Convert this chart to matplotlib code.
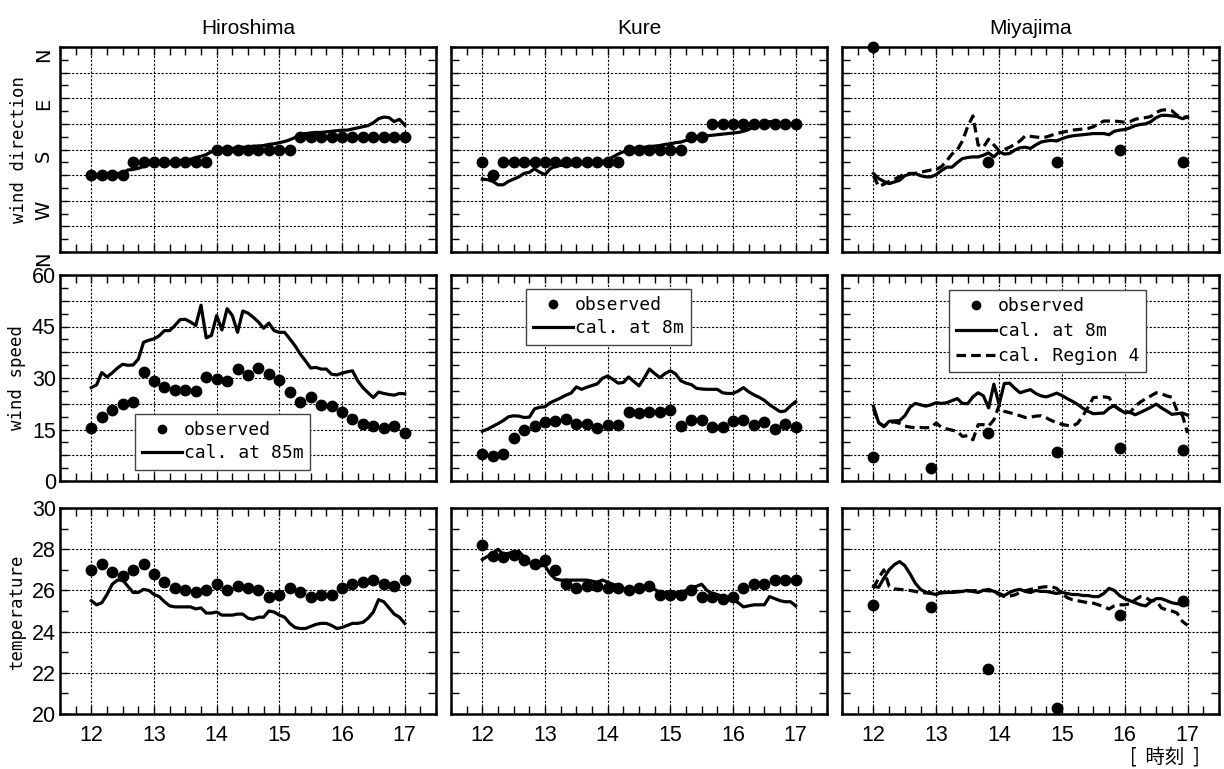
import numpy as np
import matplotlib
matplotlib.use("Agg")
import matplotlib.pyplot as plt
from matplotlib.ticker import MultipleLocator, FuncFormatter

plt.rcParams['font.family'] = ['Liberation Sans', 'Noto Sans CJK JP', 'DejaVu Sans']

stations = ["Hiroshima", "Kure", "Miyajima"]

# time axes (hours): observations every 10 min, calculations every 5 min
obs_time = 12 + np.arange(31) / 6.0
cal_time = 12 + np.arange(61) / 12.0
miya_obs_time = [12.0, 12.92, 13.83, 14.92, 15.92, 16.92]

# ---- wind direction (deg, N=0, E=90, S=180, W=270) ----
hiro_dir_obs = [225] * 4 + [202.5] * 8 + [180] * 8 + [157.5] * 11
hiro_dir_cal = [222, 228, 229, 222, 222, 222, 222, 216, 215, 213, 210, 206, 205, 204, 204, 203,
                202, 200, 199, 197, 194, 192, 189, 184, 181, 179, 178, 178, 177, 176, 176, 174,
                174, 173, 171, 170, 168, 166, 163, 159, 153, 152, 151, 150, 150, 149, 148, 147,
                146, 146, 144, 142, 140, 138, 133, 126, 123, 124, 131, 127, 137]
kure_dir_obs = [202.5, 225] + [202.5] * 12 + [180] * 6 + [157.5] * 2 + [135] * 9
kure_dir_cal = [232, 233, 236, 242, 242, 236, 232, 228, 222, 220, 214, 220, 224, 214, 209, 208,
                208, 207, 205, 205, 205, 204, 203, 201, 198, 193, 188, 184, 182, 178, 176, 176,
                175, 174, 173, 171, 170, 168, 167, 164, 161, 159, 157, 156, 155, 154, 153, 152,
                151, 150, 148, 145, 139, 136, 134, 131, 132, 133, 134, 135, 136]
miya_dir_obs = [0, np.nan, 202.5, 202.5, 180, 202.5]
miya_dir_cal = [222, 231, 236, 240, 237, 234, 226, 223, 222, 226, 228, 228, 224, 217, 211, 211,
                203, 196, 194, 193, 193, 190, 186, 193, 184, 188, 187, 181, 177, 176, 178, 172,
                167, 165, 164, 165, 161, 158, 156, 155, 154, 153, 152, 152, 152, 154, 148, 146,
                145, 142, 138, 136, 135, 131, 124, 120, 120, 121, 122, 126, 123]
miya_dir_reg4 = [226, 245, 241, 236, 232, 228, 222, 222, 222, 220, 218, 216, 215, 210, 200, 188,
                 181, 165, 140, 121, 172, 176, 162, 172, 182, 180, 176, 171, 165, 156, 157, 158,
                 159, 158, 155, 152, 150, 148, 146, 145, 144, 143, 140, 135, 130, 130, 130, 131,
                 132, 131, 127, 125, 124, 122, 115, 111, 110, 112, 120, 124, 122]

# ---- wind speed ----
hiro_spd_obs = [15.3, 18.6, 20.6, 22.5, 22.9, 31.8, 29.2, 27.5, 26.5, 26.6, 26.2, 30.4, 29.6,
                29.0, 32.5, 30.8, 33.0, 31.1, 29.5, 25.8, 23.1, 24.5, 22.1, 21.8, 20.2, 18.0,
                16.5, 16.1, 15.5, 16.1, 14.1]
hiro_spd_cal = [27.2, 28.0, 31.6, 30.3, 31.5, 32.9, 34.0, 33.7, 33.8, 35.5, 40.4, 41.0, 41.4,
                42.3, 43.8, 43.8, 45.3, 47.0, 47.1, 46.3, 45.3, 51.2, 41.7, 42.4, 48.2, 44.0,
                50.2, 48.2, 43.3, 49.5, 48.9, 47.7, 46.3, 44.5, 46.0, 43.8, 43.3, 43.3, 41.4,
                39.4, 37.0, 35.0, 32.9, 33.1, 32.6, 32.6, 31.1, 30.9, 31.4, 31.8, 32.1, 29.2,
                27.2, 25.7, 24.3, 25.9, 25.5, 25.2, 25.0, 25.5, 25.4]
kure_spd_obs = [7.8, 7.4, 7.8, 12.5, 15.0, 15.9, 17.2, 17.4, 18.1, 16.6, 16.6, 15.5, 16.4, 16.4,
                20.2, 19.9, 20.2, 20.2, 20.8, 16.1, 17.9, 17.9, 15.8, 15.8, 17.4, 17.7, 16.4,
                17.2, 15.2, 16.7, 15.8]
kure_spd_cal = [14.5, 15.1, 15.9, 16.7, 17.6, 18.7, 19.0, 18.9, 18.5, 18.6, 21.0, 21.5, 21.6,
                22.8, 23.5, 24.2, 25.0, 25.6, 27.4, 26.7, 27.3, 27.8, 28.3, 29.9, 30.6, 29.6,
                28.5, 28.7, 30.3, 29.0, 27.7, 30.0, 32.6, 31.3, 30.1, 31.3, 32.1, 31.2, 29.2,
                28.5, 28.1, 27.0, 26.8, 26.7, 26.7, 26.7, 25.7, 25.5, 25.5, 26.2, 27.2, 26.0,
                25.1, 24.4, 23.5, 22.2, 21.2, 20.2, 20.4, 21.9, 23.1]
miya_spd_obs = [7.1, 3.7, 14.0, 8.4, 9.6, 9.1]
miya_spd_cal = [21.8, 17.0, 15.8, 17.4, 17.5, 17.6, 19.0, 21.5, 22.6, 22.2, 21.8, 22.2, 22.8,
                22.6, 22.8, 23.4, 24.0, 22.6, 22.5, 24.5, 25.7, 24.8, 21.3, 28.2, 22.3, 28.4,
                28.5, 27.0, 25.7, 26.2, 26.6, 25.5, 24.8, 24.5, 25.0, 25.6, 24.9, 24.0, 23.2,
                22.3, 21.2, 20.3, 19.6, 19.7, 19.8, 21.2, 22.0, 20.8, 19.9, 20.0, 19.3, 20.0,
                20.7, 21.5, 22.4, 21.3, 20.4, 19.4, 19.6, 19.8, 19.2]
miya_spd_reg4 = [21.0, 17.0, 16.0, 17.0, 17.2, 16.8, 16.0, 15.7, 15.5, 15.6, 15.5, 15.6, 16.9,
                 15.6, 15.2, 14.8, 14.5, 13.0, 13.2, 12.0, 16.4, 16.4, 16.0, 17.8, 22.0, 20.3,
                 19.9, 19.5, 19.0, 18.5, 18.6, 18.9, 19.0, 18.4, 17.6, 17.0, 16.5, 16.2, 16.0,
                 16.8, 19.0, 21.5, 24.3, 24.4, 24.5, 24.3, 21.8, 20.8, 20.5, 19.9, 21.8, 23.0,
                 24.0, 24.8, 25.7, 25.4, 24.8, 24.4, 20.4, 19.2, 14.0]

# ---- temperature ----
hiro_tmp_obs = [27.0, 27.3, 26.9, 26.7, 27.0, 27.3, 26.8, 26.4, 26.1, 26.0, 25.9, 26.0, 26.3,
                26.0, 26.2, 26.1, 26.0, 25.7, 25.8, 26.1, 25.9, 25.7, 25.8, 25.8, 26.1, 26.3,
                26.4, 26.5, 26.3, 26.2, 26.5]
hiro_tmp_cal = [25.5, 25.3, 25.4, 25.8, 26.3, 26.5, 26.5, 26.2, 25.9, 25.9, 26.05, 26.0, 25.8,
                25.7, 25.45, 25.25, 25.2, 25.2, 25.2, 25.2, 25.1, 25.15, 24.9, 24.9, 24.95, 24.8,
                24.8, 24.8, 24.85, 24.85, 24.65, 24.6, 24.7, 24.7, 25.0, 24.95, 24.8, 24.7, 24.4,
                24.2, 24.15, 24.15, 24.25, 24.35, 24.4, 24.4, 24.3, 24.15, 24.2, 24.3, 24.4, 24.4,
                24.45, 24.65, 24.95, 25.55, 25.45, 25.15, 24.85, 24.7, 24.4]
kure_tmp_obs = [28.2, 27.65, 27.6, 27.7, 27.5, 27.3, 27.5, 27.0, 26.3, 26.1, 26.2, 26.2, 26.1,
                26.1, 26.0, 26.1, 26.2, 25.8, 25.8, 25.8, 26.0, 25.7, 25.7, 25.6, 25.7, 26.1,
                26.3, 26.3, 26.5, 26.5, 26.5]
kure_tmp_cal = [27.5, 27.65, 27.8, 28.0, 27.75, 27.8, 27.85, 27.9, 27.6, 27.35, 27.2, 27.2, 27.2,
                26.8, 26.55, 26.5, 26.5, 26.5, 26.5, 26.5, 26.5, 26.45, 26.4, 26.5, 26.4, 26.3,
                26.2, 26.1, 26.0, 26.0, 26.0, 26.1, 26.2, 26.05, 25.9, 25.9, 25.9, 25.9, 25.9,
                26.0, 26.1, 26.2, 26.3, 26.0, 25.85, 25.8, 25.7, 25.65, 25.55, 25.4, 25.2, 25.25,
                25.3, 25.3, 25.3, 25.7, 25.6, 25.5, 25.45, 25.45, 25.25]
miya_tmp_obs = [25.3, 25.2, 22.2, 20.3, 24.8, 25.5]
miya_tmp_cal = [26.2, 26.15, 26.6, 27.0, 27.25, 27.4, 27.2, 26.8, 26.35, 26.05, 25.9, 25.85, 25.8,
                25.9, 25.9, 25.9, 25.92, 25.95, 26.0, 25.95, 25.9, 26.0, 26.05, 25.95, 25.85,
                25.75, 25.9, 26.0, 26.05, 25.95, 25.9, 26.0, 25.95, 25.95, 25.9, 25.85, 25.9,
                25.85, 25.8, 25.8, 25.75, 25.75, 25.7, 25.7, 25.85, 26.1, 26.0, 25.75, 25.6, 25.5,
                25.4, 25.3, 25.25, 25.45, 25.6, 25.6, 25.5, 25.4, 25.35, 25.35, 25.3]
miya_tmp_reg4 = [26.1, 26.6, 27.0, 26.2, 26.08, 26.05, 26.02, 26.0, 25.95, 25.9, 25.88, 25.88,
                 25.9, 25.88, 25.9, 25.93, 25.95, 25.95, 25.97, 25.98, 26.0, 26.0, 25.98, 25.95,
                 25.8, 25.7, 25.72, 25.78, 25.9, 25.98, 26.05, 26.1, 26.15, 26.18, 26.18, 26.1,
                 25.85, 25.65, 25.55, 25.5, 25.45, 25.4, 25.38, 25.3, 25.2, 25.1, 25.25, 25.3,
                 25.3, 25.35, 25.55, 25.7, 25.65, 25.5, 25.5, 25.15, 25.05, 25.0, 24.9, 24.5, 24.3]

row_labels = ["wind direction", "wind speed", "temperature"]
dir_names = {0: "N", 90: "E", 180: "S", 270: "W", 360: "N"}

obs = [[hiro_dir_obs, kure_dir_obs, miya_dir_obs],
       [hiro_spd_obs, kure_spd_obs, miya_spd_obs],
       [hiro_tmp_obs, kure_tmp_obs, miya_tmp_obs]]
cal = [[hiro_dir_cal, kure_dir_cal, miya_dir_cal],
       [hiro_spd_cal, kure_spd_cal, miya_spd_cal],
       [hiro_tmp_cal, kure_tmp_cal, miya_tmp_cal]]
reg4 = [miya_dir_reg4, miya_spd_reg4, miya_tmp_reg4]

W, H = 1224, 769
fig = plt.figure(figsize=(W / 100, H / 100), dpi=100)

col_px = [(60, 436), (451, 827), (842, 1219)]
row_px = [(47, 252), (275, 481), (508, 714)]

num_family = ['Liberation Sans Narrow', 'Liberation Sans']
mono = ['DejaVu Sans Mono']

for r in range(3):
    for c in range(3):
        x0, x1 = col_px[c]
        y0, y1 = row_px[r]
        ax = fig.add_axes([x0 / W, 1 - y1 / H, (x1 - x0) / W, (y1 - y0) / H])

        t_obs = miya_obs_time if c == 2 else obs_time
        ax.plot(t_obs, obs[r][c], 'o', color='black', ms=7.5, clip_on=False, zorder=4)
        ax.plot(cal_time, cal[r][c], '-', color='black', lw=2.3, zorder=3)
        if c == 2:
            ax.plot(cal_time, reg4[r], color='black', lw=2.3, ls=(0, (3, 1.6)), zorder=3)

        ax.set_xlim(11.5, 17.5)
        ax.xaxis.set_major_locator(MultipleLocator(1))
        ax.xaxis.set_minor_locator(MultipleLocator(0.25))

        if r == 0:
            ax.set_ylim(360, 0)
            ax.yaxis.set_major_locator(MultipleLocator(45))
            ax.yaxis.set_minor_locator(MultipleLocator(22.5))
            fmt = FuncFormatter(lambda v, p: dir_names.get(int(round(v)), "") if abs(v % 90) < 1e-6 else "")
        elif r == 1:
            ax.set_ylim(0, 60)
            ax.yaxis.set_major_locator(MultipleLocator(7.5))
            ax.yaxis.set_minor_locator(MultipleLocator(3.75))
            fmt = FuncFormatter(lambda v, p: "%d" % v if abs(v % 15) < 1e-6 else "")
        else:
            ax.set_ylim(20, 30)
            ax.yaxis.set_major_locator(MultipleLocator(2))
            ax.yaxis.set_minor_locator(MultipleLocator(1))
            fmt = FuncFormatter(lambda v, p: "%d" % v)
        ax.yaxis.set_major_formatter(fmt)

        ax.grid(True, which='major', color='black', lw=0.8, ls=(0, (2, 1.5)))
        ax.tick_params(which='both', direction='in', top=True, right=True,
                       length=6, width=1)
        for sp in ax.spines.values():
            sp.set_linewidth(1.8)

        if c == 0:
            if r == 0:
                for lab in ax.get_yticklabels():
                    lab.set_rotation(90)
                    lab.set_va('top')
                    lab.set_family(['DejaVu Sans'])
                    lab.set_fontsize(14)
                ax.tick_params(axis='y', pad=5)
            else:
                for lab in ax.get_yticklabels():
                    lab.set_fontfamily(num_family)
                    lab.set_fontsize(15.5)
                ax.tick_params(axis='y', pad=3)
            ax.set_ylabel(row_labels[r], family=mono, fontsize=12.5, labelpad=4)
        else:
            ax.set_yticklabels([])

        if r == 2:
            for lab in ax.get_xticklabels():
                lab.set_fontfamily(num_family)
                lab.set_fontsize(15.5)
            ax.tick_params(axis='x', pad=8)
        else:
            ax.set_xticklabels([])

        if r == 0:
            ax.set_title(stations[c], fontsize=15, pad=9)

        if r == 1:
            if c == 0:
                labels = ["observed", "cal. at 85m"]
                anchor = (0.199, 0.325)
                lsp = 0.28
            elif c == 1:
                labels = ["observed", "cal. at 8m"]
                anchor = (0.199, 0.932)
                lsp = 0.28
            else:
                labels = ["observed", "cal. at 8m", "cal. Region 4"]
                anchor = (0.284, 0.927)
                lsp = 0.38
            leg = ax.legend(labels, loc='upper left', bbox_to_anchor=anchor,
                            borderaxespad=0, fancybox=False, framealpha=1,
                            edgecolor='#444444', handlelength=2.2, handletextpad=0.1,
                            borderpad=0.4, labelspacing=lsp, markerscale=0.8,
                            prop={'family': mono, 'size': 13})
            leg.get_frame().set_linewidth(1.0)
            leg.set_zorder(10)

fig.text(1165 / W, 1 - 757 / H, "[  時刻  ]", ha='center', va='center', fontsize=14,
         family=['Noto Sans CJK JP', 'DejaVu Sans'])

fig.savefig("out.png", dpi=100)
